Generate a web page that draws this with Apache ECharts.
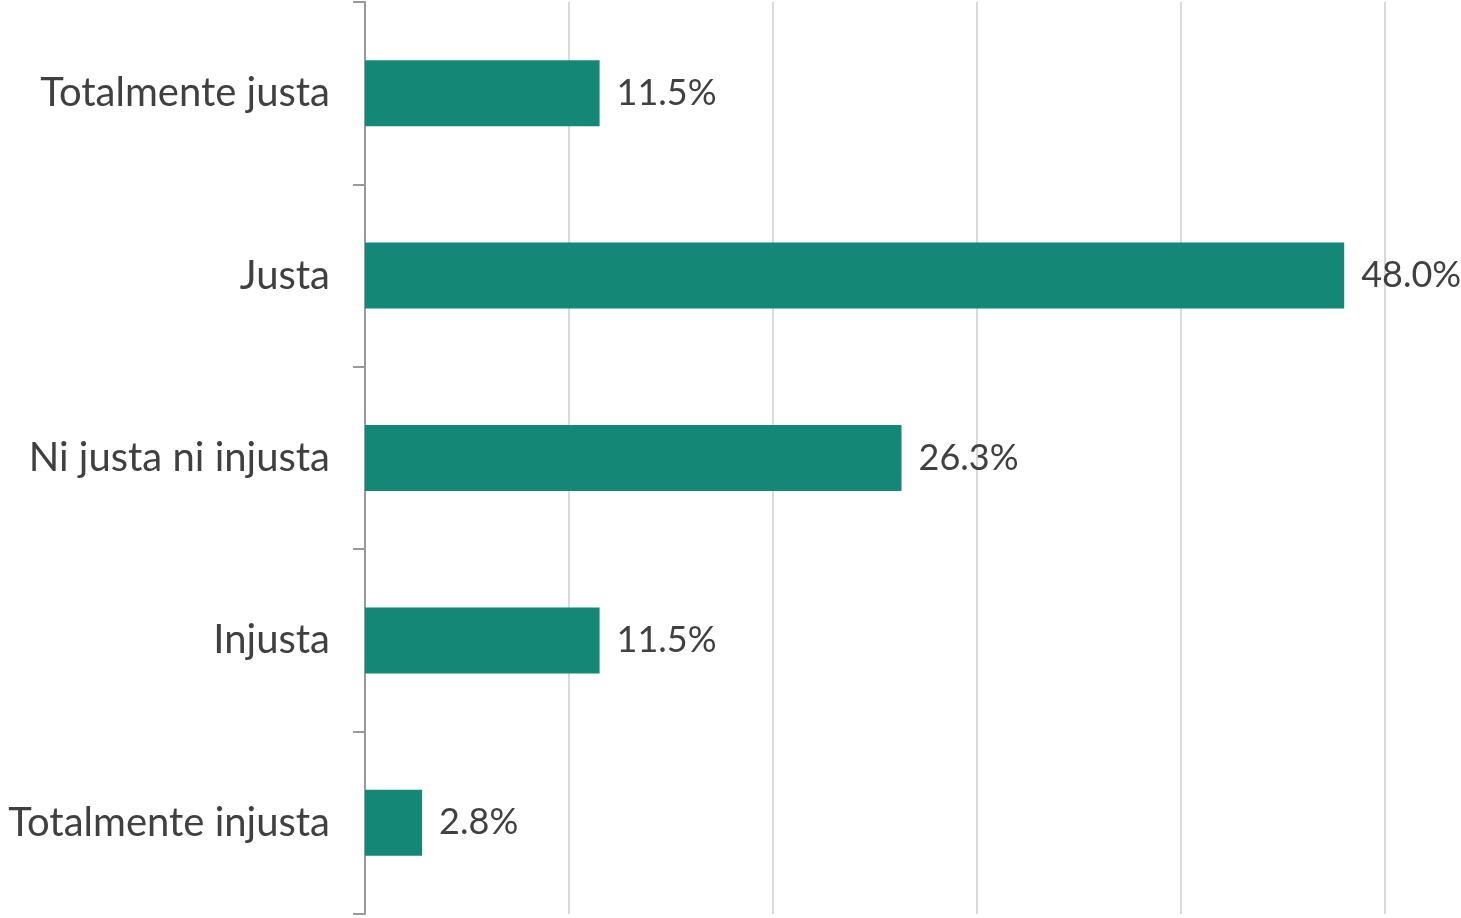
<!DOCTYPE html>
<html>
<head>
<meta charset="utf-8">
<script src="https://cdn.jsdelivr.net/npm/echarts@6/dist/echarts.min.js"></script>
<style>
  html, body { margin: 0; padding: 0; background: #fff; }
  #chart { width: 1461px; height: 918px; }
</style>
</head>
<body>
<div id="chart"></div>
<script>
// categories from top to bottom
const categories = ['Totalmente justa', 'Justa', 'Ni justa ni injusta', 'Injusta', 'Totalmente injusta'];
const values = [11.5, 48.0, 26.3, 11.5, 2.8];

const chart = echarts.init(document.getElementById('chart'));

const option = {
  animation: false,
  grid: { left: 365, right: 76, top: 2, bottom: 4 },
  xAxis: {
    type: 'value',
    min: 0,
    max: 50,
    interval: 10,
    axisLabel: { show: false },
    axisLine: { show: false },
    axisTick: { show: false },
    splitLine: { lineStyle: { color: '#d9d9d9', width: 2 } }
  },
  yAxis: {
    type: 'category',
    inverse: true,
    data: categories,
    axisLine: { show: true, lineStyle: { color: '#999999', width: 2 } },
    axisTick: { show: true, alignWithLabel: false, interval: 0, length: 12, lineStyle: { color: '#999999', width: 2 } },
    axisLabel: {
      margin: 35,
      color: '#404040',
      fontFamily: 'Lato',
      fontSize: 40
    }
  },
  series: [{
    type: 'bar',
    data: values,
    barWidth: 66,
    itemStyle: { color: '#158777' },
    label: {
      show: true,
      position: 'right',
      distance: 17,
      color: '#404040',
      fontFamily: 'Lato',
      fontSize: 36,
      formatter: (p) => p.value.toFixed(1) + '%'
    }
  }]
};

chart.setOption(option);
</script>
</body>
</html>
